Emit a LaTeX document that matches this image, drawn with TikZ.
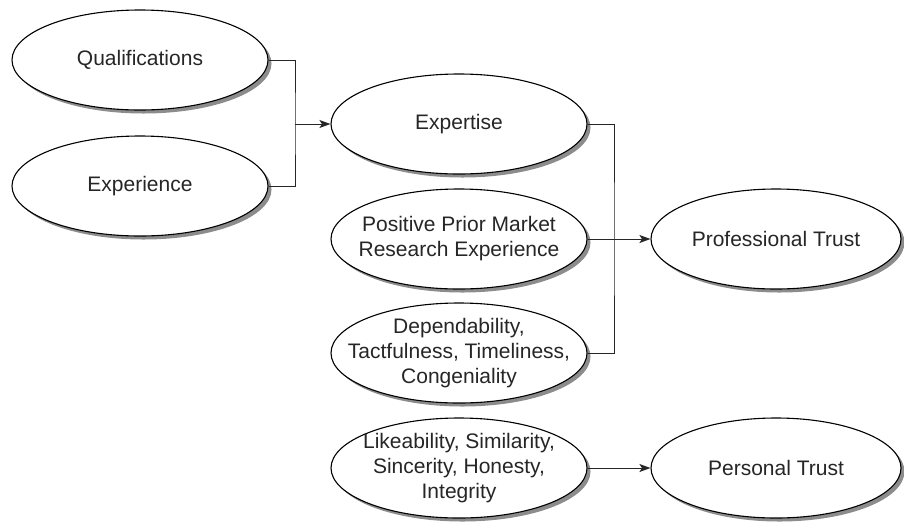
\documentclass[tikz,border=0pt]{standalone}
\usepackage{fontspec}
\setmainfont{Liberation Sans}
\usetikzlibrary{shapes.geometric,shadows,arrows.meta}
\begin{document}
\begin{tikzpicture}[x=1pt,y=-1pt,
  ell/.style={ellipse,draw=black,line width=1.1pt,fill=white,inner sep=0pt,
    minimum width=256pt,minimum height=100pt,
    drop shadow={shadow xshift=3.5pt,shadow yshift=-3.5pt,fill=black!45,opacity=1}},
  ellr/.style={ell,minimum width=250pt},
  lbl/.style={align=center,inner sep=0pt,font=\fontsize{21}{25}\selectfont,text=black!85},
  conn/.style={line width=1pt,draw=black!85},
  arr/.style={conn,-{Stealth[length=11pt,width=8pt,inset=2.5pt]}}]
\useasboundingbox (0,0) rectangle (904,523);
\node[ell] (q) at (140,60) {};
\node[lbl] (qt) at (q) {Qualifications};
\node[ell] (x) at (140,186) {};
\node[lbl] (xt) at (x) {Experience};
\node[ell] (ex) at (459,124) {};
\node[lbl] (ext) at (ex) {Expertise};
\node[ell] (pp) at (459,239) {};
\node[lbl] (ppt) at (pp) {Positive Prior Market\\Research Experience};
\node[ell] (dp) at (459,353) {};
\node[lbl] (dpt) at (dp) {Dependability,\\Tactfulness, Timeliness,\\Congeniality};
\node[ell] (lk) at (459,468) {};
\node[lbl] (lkt) at (lk) {Likeability, Similarity,\\Sincerity, Honesty,\\Integrity};
\node[ellr] (pt) at (776,239) {};
\node[lbl] (ptt) at (pt) {Professional Trust};
\node[ellr] (ps) at (776,468) {};
\node[lbl] (pst) at (ps) {Personal Trust};
\coordinate (j1) at (295,124);
\coordinate (j2) at (614,239);
\draw[conn] (q.east) -| (j1) |- (x.east);
\draw[arr] (j1) -- (ex.west);
\draw[conn] (ex.east) -| (j2) |- (dp.east);
\draw[arr] (pp.east) -- (pt.west);
\draw[arr] (lk.east) -- (ps.west);
\end{tikzpicture}
\end{document}
